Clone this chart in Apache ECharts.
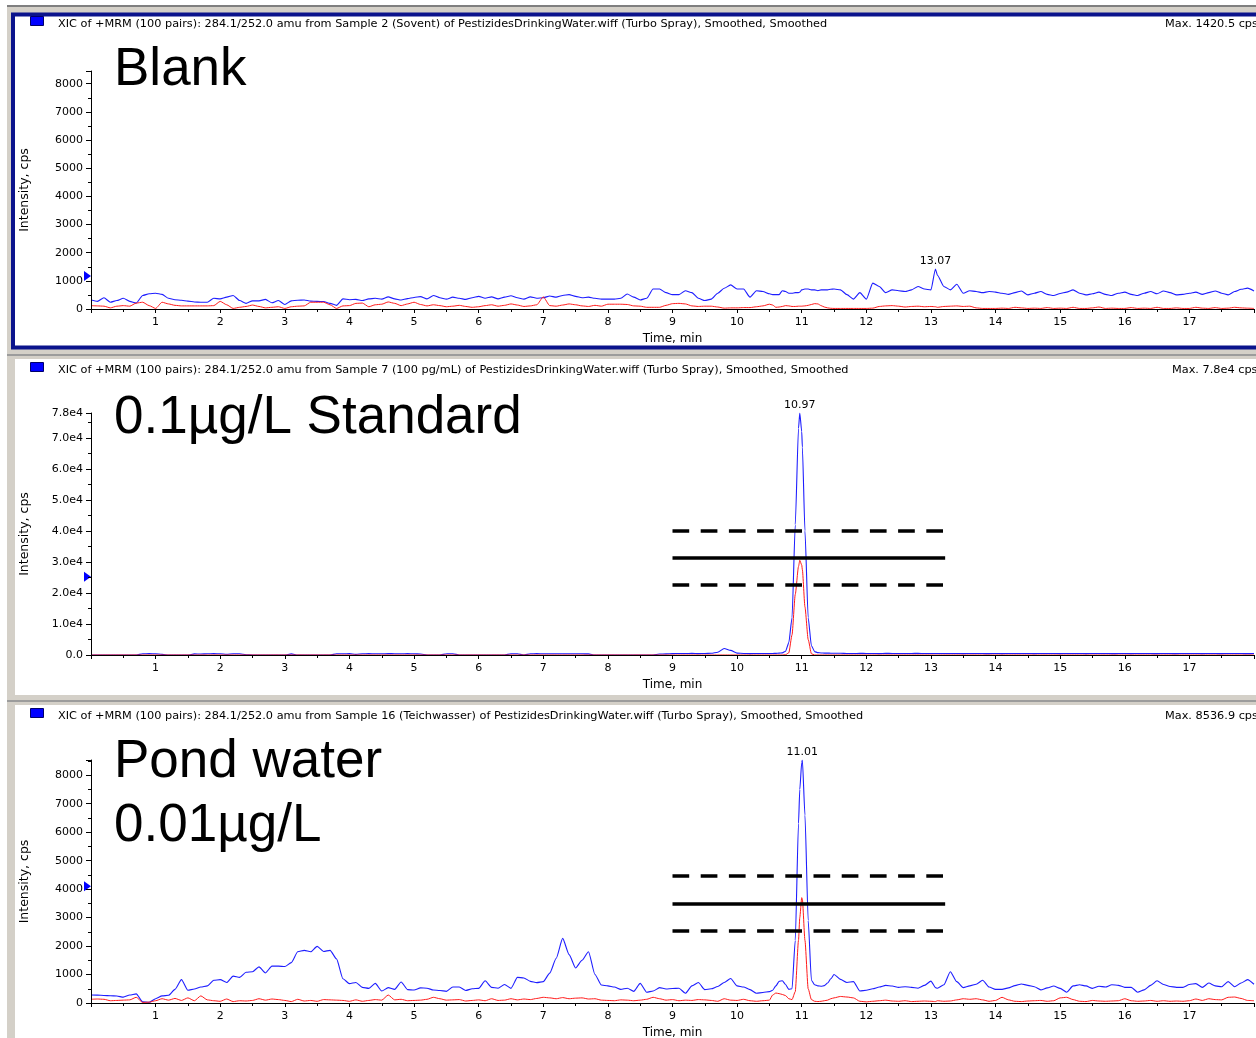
<!DOCTYPE html>
<html>
<head>
<meta charset="utf-8">
<title>XIC 284.1/252.0</title>
<script src="https://cdn.jsdelivr.net/npm/echarts@6/dist/echarts.min.js"></script>
<style>
  html, body { margin: 0; padding: 0; background: #fff; }
  #chart { width: 1256px; height: 1038px; }
</style>
</head>
<body>
<div id="chart"></div>
<script>
// sampling times (min), shared by all traces
const times = [
  0, 0.1, 0.2, 0.3, 0.4, 0.5, 0.6, 0.7, 0.8, 0.9,
  1, 1.1, 1.2, 1.3, 1.4, 1.5, 1.6, 1.7, 1.8, 1.9,
  2, 2.1, 2.2, 2.3, 2.4, 2.5, 2.6, 2.7, 2.8, 2.9,
  3, 3.1, 3.2, 3.3, 3.4, 3.5, 3.6, 3.7, 3.8, 3.9,
  4, 4.1, 4.2, 4.3, 4.4, 4.5, 4.6, 4.7, 4.8, 4.9,
  5, 5.1, 5.2, 5.3, 5.4, 5.5, 5.6, 5.7, 5.8, 5.9,
  6, 6.1, 6.2, 6.3, 6.4, 6.5, 6.6, 6.7, 6.8, 6.9,
  7, 7.1, 7.2, 7.3, 7.4, 7.5, 7.6, 7.7, 7.8, 7.9,
  8, 8.1, 8.2, 8.3, 8.4, 8.5, 8.6, 8.7, 8.8, 8.9,
  9, 9.1, 9.2, 9.3, 9.4, 9.5, 9.6, 9.7, 9.8, 9.9,
  10, 10.1, 10.2, 10.3, 10.4, 10.5,
  10.55, 10.6, 10.65, 10.7, 10.75, 10.8, 10.85, 10.9, 10.95, 10.97, 11, 11.01, 11.05, 11.1, 11.15, 11.2, 11.25, 11.3, 11.35, 11.4, 11.45, 11.5,
  11.6, 11.7, 11.8, 11.9,
  12, 12.1, 12.2, 12.3, 12.4, 12.5, 12.6, 12.7, 12.8, 12.9,
  13, 13.07,
  13.1, 13.2, 13.3, 13.4, 13.5, 13.6, 13.7, 13.8, 13.9,
  14, 14.1, 14.2, 14.3, 14.4, 14.5, 14.6, 14.7, 14.8, 14.9,
  15, 15.1, 15.2, 15.3, 15.4, 15.5, 15.6, 15.7, 15.8, 15.9,
  16, 16.1, 16.2, 16.3, 16.4, 16.5, 16.6, 16.7, 16.8, 16.9,
  17, 17.1, 17.2, 17.3, 17.4, 17.5, 17.6, 17.7, 17.8, 17.9,
  18
];

// Blank (Sample 2), cps
const blankBlue = [
  320, 270, 400, 240, 300, 380, 270, 210, 480, 540,
  560, 520, 380, 330, 310, 280, 250, 240, 240, 380,
  360, 420, 480, 300, 200, 290, 290, 340, 220, 300,
  160, 290, 310, 320, 280, 270, 265, 200, 130, 360,
  330, 340, 300, 360, 380, 350, 430, 360, 320, 370,
  410, 440, 360, 480, 400, 350, 420, 380, 340, 400,
  450, 380, 430, 360, 420, 470, 400, 350, 430, 380,
  400, 460, 420, 480, 510, 450, 400, 420, 380, 350,
  350, 350, 380, 530, 420, 320, 380, 710, 710, 580,
  510, 510, 650, 580, 380, 300, 350, 560, 735, 855,
  710, 710, 420, 650, 620, 540,
  510, 510, 510, 650, 620, 560, 560, 580, 580, 600, 680, 680, 710, 710, 680, 680, 650, 680, 680, 680, 700, 710,
  680, 510, 350, 580,
  350, 920, 800, 580, 680, 650, 620, 680, 800, 710,
  680, 1420,
  1200, 800, 680, 880, 560, 650, 620, 580, 620,
  600, 560, 520, 580, 640, 500, 560, 620, 520, 480,
  550, 600, 680, 560, 500, 540, 600, 520, 480, 560,
  600, 520, 480, 560, 620, 540, 640, 580, 500, 520,
  560, 600, 520, 580, 640, 560, 500, 620, 700, 740,
  640
];
const blankRed = [
  120, 110, 100, 40, 100, 120, 100, 210, 240, 120,
  20, 240, 180, 130, 110, 110, 110, 110, 110, 120,
  270, 150, 20, 60, 90, 140, 90, 40, 60, 80,
  20, 80, 100, 110, 240, 240, 240, 150, 20, 110,
  120, 200, 210, 80, 150, 170, 250, 200, 120, 180,
  240, 160, 110, 150, 120, 80, 100, 130, 90, 60,
  80, 120, 150, 100, 130, 180, 140, 90, 110, 150,
  430, 120, 100, 140, 180, 150, 110, 90, 130, 100,
  170, 170, 170, 160, 110, 100, 60, 60, 60, 130,
  190, 200, 180, 110, 90, 100, 100, 70, 30, 40,
  40, 50, 50, 80, 110, 170,
  140, 60, 70, 90, 120, 110, 90, 90, 100, 100, 100, 100, 110, 130, 160, 190, 180, 120, 70, 40, 25, 20,
  20, 20, 20, 20,
  20, 30, 90, 110, 120, 100, 70, 90, 100, 80,
  90, 80,
  60, 90, 100, 110, 90, 100, 40, 20, 20,
  20, 30, 20, 60, 40, 20, 30, 20, 50, 20,
  30, 20, 60, 20, 20, 40, 70, 20, 30, 20,
  20, 50, 20, 30, 20, 60, 20, 20, 40, 20,
  20, 60, 30, 20, 50, 20, 30, 60, 40, 30,
  20
];

// 0.1 ug/L standard (Sample 7), cps
const stdBlue = [
  0, 0, 0, 0, 0, 0, 0, 0, 400, 450,
  400, 200, 0, 0, 0, 0, 350, 300, 400, 450,
  380, 250, 400, 400, 100, 0, 0, 0, 0, 0,
  0, 350, 0, 0, 0, 0, 0, 0, 400, 400,
  450, 200, 400, 450, 400, 400, 450, 420, 400, 450,
  400, 300, 0, 0, 0, 400, 420, 0, 0, 0,
  0, 0, 0, 0, 0, 400, 400, 0, 400, 450,
  400, 400, 400, 380, 420, 400, 400, 350, 0, 0,
  0, 0, 0, 0, 0, 0, 0, 0, 300, 350,
  450, 500, 480, 520, 450, 500, 550, 900, 2100, 1500,
  600, 500, 450, 500, 480, 500,
  500, 520, 600, 700, 1200, 4000, 12000, 42000, 73000, 78000, 72000, 67000, 40000, 12000, 3000, 1100, 750, 650, 600, 600, 580, 560,
  550, 500, 480, 520,
  500, 480, 450, 520, 500, 480, 470, 500, 520, 480,
  500, 480,
  470, 460, 500, 480, 450, 470, 500, 460, 440,
  480, 450, 470, 500, 460, 480, 450, 470, 500, 480,
  450, 480, 500, 470, 450, 480, 500, 470, 450, 460,
  480, 450, 470, 500, 460, 450, 480, 460, 450, 470,
  460, 480, 450, 470, 460, 450, 480, 470, 460, 450,
  460
];
const stdRed = [
  0, 0, 0, 0, 0, 0, 0, 0, 0, 0,
  0, 0, 0, 0, 0, 0, 0, 0, 0, 0,
  0, 0, 0, 0, 0, 0, 0, 0, 0, 0,
  0, 0, 0, 0, 0, 0, 0, 0, 0, 0,
  0, 0, 0, 0, 0, 0, 0, 0, 0, 0,
  0, 0, 0, 0, 0, 0, 0, 0, 0, 0,
  0, 0, 0, 0, 0, 0, 0, 0, 0, 0,
  0, 0, 0, 0, 0, 0, 0, 0, 0, 0,
  0, 0, 0, 0, 0, 0, 0, 0, 0, 0,
  0, 0, 0, 0, 0, 0, 0, 0, 0, 0,
  0, 0, 0, 0, 0, 0,
  0, 0, 0, 0, 100, 700, 6500, 19500, 28500, 30500, 29000, 27500, 15500, 5000, 400, 0, 0, 0, 0, 0, 0, 0,
  0, 0, 0, 0,
  0, 0, 0, 0, 0, 0, 0, 0, 0, 0,
  0, 0,
  0, 0, 0, 0, 0, 0, 0, 0, 0,
  0, 0, 0, 0, 0, 0, 0, 0, 0, 0,
  0, 0, 0, 0, 0, 0, 0, 0, 0, 0,
  0, 0, 0, 0, 0, 0, 0, 0, 0, 0,
  0, 0, 0, 0, 0, 0, 0, 0, 0, 0,
  0
];

// pond water 0.01 ug/L (Sample 16), cps
const pondBlue = [
  280, 275, 265, 255, 245, 205, 280, 320, 40, 25,
  150, 250, 270, 480, 820, 450, 490, 560, 600, 800,
  820, 720, 945, 900, 1080, 1100, 1270, 1060, 1295, 1295,
  1280, 1420, 1800, 1850, 1800, 1990, 1810, 1850, 1550, 850,
  680, 720, 550, 515, 690, 420, 540, 480, 740, 470,
  455, 530, 520, 455, 440, 410, 560, 560, 440, 500,
  515, 780, 550, 520, 650, 515, 900, 880, 760, 715,
  750, 1050, 1570, 2270, 1700, 1230, 1500, 1800, 1000, 630,
  600, 560, 480, 520, 410, 690, 380, 420, 540, 490,
  510, 520, 340, 600, 720, 470, 500, 580, 720, 860,
  600, 560, 470, 340, 370, 400,
  450, 600, 760, 780, 650, 480, 500, 2200, 6300, 7500, 8450, 8537, 6600, 2900, 800, 640, 600, 590, 610, 700, 850, 1000,
  830, 720, 750, 420,
  450, 500, 560, 620, 595, 550, 570, 550, 520, 620,
  770, 540,
  520, 640, 1100, 750, 540, 600, 660, 800, 560,
  480, 480, 530, 610, 670, 620, 570, 460, 530, 595,
  515, 380, 600, 640, 600, 515, 590, 560, 640, 620,
  550, 550, 380, 460, 620, 780, 650, 580, 550, 550,
  650, 680, 550, 700, 600, 570, 750, 570, 700, 820,
  660
];
const pondRed = [
  130, 140, 130, 80, 90, 100, 110, 200, 20, 30,
  80, 150, 100, 160, 90, 180, 80, 250, 110, 80,
  60, 140, 50, 80, 70, 90, 150, 100, 140, 120,
  90, 50, 130, 70, 90, 60, 120, 110, 100, 90,
  60, 110, 60, 90, 120, 100, 280, 110, 130, 80,
  90, 100, 130, 200, 150, 100, 110, 120, 70, 90,
  110, 80, 150, 90, 100, 150, 110, 140, 120, 160,
  200, 180, 150, 190, 150, 170, 180, 140, 150, 100,
  90, 80, 110, 100, 80, 100, 130, 200, 150, 100,
  120, 80, 100, 90, 120, 110, 90, 60, 150, 100,
  90, 130, 80, 60, 80, 100,
  280, 350, 330, 300, 260, 150, 120, 400, 2200, 3000, 3700, 3650, 2200, 500, 120, 60, 50, 60, 80, 100, 150, 180,
  230, 210, 180, 60,
  40, 60, 80, 100, 70, 60, 80, 50, 60, 70,
  60, 50,
  80, 60, 70, 110, 150, 130, 150, 110, 60,
  90, 200, 110, 60, 50, 70, 80, 90, 60, 80,
  180, 200, 120, 60, 50, 90, 70, 60, 70, 80,
  150, 80, 60, 70, 90, 60, 80, 60, 70, 60,
  80, 140, 90, 150, 120, 110, 200, 210, 160, 90,
  80
];

const peakTimes = [13.07, 10.97, 11.01];
const thresholds = [1170, 25200, 4100];
const stdLimits = [22700, 31300, 40200];   // lower dashed, solid, upper dashed
const pondLimits = [2540, 3475, 4460];
const limitSpan = [9, 13.22];

const headers = [
  'XIC of +MRM (100 pairs): 284.1/252.0 amu from Sample 2 (Sovent) of PestizidesDrinkingWater.wiff (Turbo Spray), Smoothed, Smoothed',
  'XIC of +MRM (100 pairs): 284.1/252.0 amu from Sample 7 (100 pg/mL) of PestizidesDrinkingWater.wiff (Turbo Spray), Smoothed, Smoothed',
  'XIC of +MRM (100 pairs): 284.1/252.0 amu from Sample 16 (Teichwasser) of PestizidesDrinkingWater.wiff (Turbo Spray), Smoothed, Smoothed'
];
const maxTexts = ['Max. 1420.5 cps', 'Max. 7.8e4 cps', 'Max. 8536.9 cps'];
const sampleLabels = [['Blank'], ['0.1µg/L Standard'], ['Pond water', '0.01µg/L']];

const SMALL = '"DejaVu Sans", sans-serif';
const BIG = '"Liberation Sans", Arial, sans-serif';
const BLUE = '#1e1eff';
const RED = '#ff1a1a';

const panels = [
  { top: 71, height: 238, yMax: 8450, blue: blankBlue, red: blankRed, limits: null, headY: 24, labelY: [70], maxX: 1165 },
  { top: 413, height: 242, yMax: 78000, blue: stdBlue, red: stdRed, limits: stdLimits, headY: 370, labelY: [418], maxX: 1172 },
  { top: 760, height: 243, yMax: 8537, blue: pondBlue, red: pondRed, limits: pondLimits, headY: 716, labelY: [762, 826], maxX: 1165 }
];

const chart = echarts.init(document.getElementById('chart'));

const grids = [], xAxes = [], yAxes = [], series = [];
const graphics = [
  { type: 'rect', z: 0, shape: { x: 7, y: 5, width: 1260, height: 1040 }, style: { fill: '#d4d0c8' } },
  { type: 'rect', z: 0, shape: { x: 7, y: 5, width: 1260, height: 2 }, style: { fill: '#7f7f7f' } },
  { type: 'rect', z: 0, shape: { x: 13, y: 14.5, width: 1260, height: 333 }, style: { fill: '#fff', stroke: '#0b138c', lineWidth: 4 } },
  { type: 'rect', z: 0, shape: { x: 7, y: 354, width: 1260, height: 2 }, style: { fill: '#9c9c9c' } },
  { type: 'rect', z: 0, shape: { x: 15, y: 359, width: 1260, height: 336 }, style: { fill: '#fff' } },
  { type: 'rect', z: 0, shape: { x: 7, y: 700, width: 1260, height: 2 }, style: { fill: '#9c9c9c' } },
  { type: 'rect', z: 0, shape: { x: 15, y: 705, width: 1260, height: 340 }, style: { fill: '#fff' } }
];

const fmtStd = v => v === 0 ? '0.0' : (v / 1e4).toFixed(1) + 'e4';

panels.forEach((p, i) => {
  grids.push({ left: 91, width: 1163, top: p.top, height: p.height, outerBoundsMode: 'none' });

  xAxes.push({
    gridIndex: i, type: 'value', min: 0, max: 18, interval: 1, z: 10,
    name: 'Time, min', nameLocation: 'middle', nameGap: 24, nameMoveOverlap: false,
    nameTextStyle: { color: '#000', fontSize: 12, fontFamily: SMALL },
    axisLine: { show: true, lineStyle: { color: '#000', width: 1 } },
    axisTick: { show: true, length: 4, lineStyle: { color: '#000' } },
    minorTick: { show: true, splitNumber: 2, length: 3, lineStyle: { color: '#000' } },
    splitLine: { show: false },
    axisLabel: { margin: 8, color: '#000', fontSize: 11, fontFamily: SMALL, showMinLabel: false, showMaxLabel: false }
  });

  yAxes.push({
    gridIndex: i, type: 'value', min: 0, max: p.yMax,
    interval: i === 1 ? 10000 : 1000, z: 10,
    name: 'Intensity, cps', nameLocation: 'middle', nameRotate: 90, nameGap: 60, nameMoveOverlap: false,
    nameTextStyle: { color: '#000', fontSize: 12.5, fontFamily: SMALL },
    axisLine: { show: true, lineStyle: { color: '#000', width: 1 } },
    axisTick: { show: true, length: 5, lineStyle: { color: '#000' } },
    minorTick: { show: true, splitNumber: 2, length: 3, lineStyle: { color: '#000' } },
    splitLine: { show: false },
    axisLabel: {
      margin: 8, color: '#000', fontSize: 11, fontFamily: SMALL,
      showMaxLabel: i === 1,
      formatter: i === 1 ? fmtStd : (v => String(v))
    }
  });

  const peakT = peakTimes[i];
  const peakV = p.blue[times.indexOf(peakT)];

  series.push({
    type: 'line', xAxisIndex: i, yAxisIndex: i, z: 2,
    data: times.map((t, k) => [t, p.blue[k]]),
    showSymbol: false, symbol: 'none', smooth: 0.2, smoothMonotone: 'x',
    lineStyle: { color: BLUE, width: 1.1 },
    markPoint: {
      silent: true, animation: false,
      data: [
        {
          coord: [peakT, peakV], symbol: 'circle', symbolSize: 1,
          itemStyle: { color: 'rgba(0,0,0,0)' },
          label: { show: true, position: 'top', distance: 2, formatter: peakT.toFixed(2),
                   color: '#000', fontSize: 11, fontFamily: SMALL }
        },
        {
          coord: [0, thresholds[i]], symbol: 'triangle', symbolSize: [10, 7],
          symbolRotate: -90, symbolOffset: [-3.5, 0],
          itemStyle: { color: '#0000ff' }, label: { show: false }
        }
      ]
    }
  });

  const red = {
    type: 'line', xAxisIndex: i, yAxisIndex: i, z: 3,
    data: times.map((t, k) => [t, p.red[k]]),
    showSymbol: false, symbol: 'none', smooth: 0.2, smoothMonotone: 'x',
    lineStyle: { color: RED, width: 1 }
  };
  if (p.limits) {
    red.markLine = {
      silent: true, animation: false, symbol: ['none', 'none'],
      label: { show: false },
      data: p.limits.map((v, k) => [
        { coord: [limitSpan[0], v], lineStyle: { color: '#000', width: 3.5, type: k === 1 ? 'solid' : [16.7, 11.5] } },
        { coord: [limitSpan[1], v] }
      ])
    };
  }
  series.push(red);

  // panel decorations
  graphics.push(
    { type: 'rect', z: 1, shape: { x: 30.5, y: p.headY - 7.5, width: 13, height: 9 }, style: { fill: '#0000ff', stroke: '#00006a', lineWidth: 1 } },
    { type: 'text', z: 1, x: 58, y: p.headY, style: { text: headers[i], font: '11.3px ' + SMALL, fill: '#000', textVerticalAlign: 'middle' } },
    { type: 'text', z: 1, x: p.maxX, y: p.headY, style: { text: maxTexts[i], font: '11.3px ' + SMALL, fill: '#000', textVerticalAlign: 'middle' } }
  );
  sampleLabels[i].forEach((txt, k) => {
    graphics.push({ type: 'text', z: 1, x: 114, y: p.labelY[k],
      style: { text: txt, font: '53px ' + BIG, fill: '#000', textVerticalAlign: 'middle' } });
  });
});

chart.setOption({
  animation: false,
  backgroundColor: '#ffffff',
  graphic: { elements: graphics },
  grid: grids,
  xAxis: xAxes,
  yAxis: yAxes,
  series: series
});
</script>
</body>
</html>
